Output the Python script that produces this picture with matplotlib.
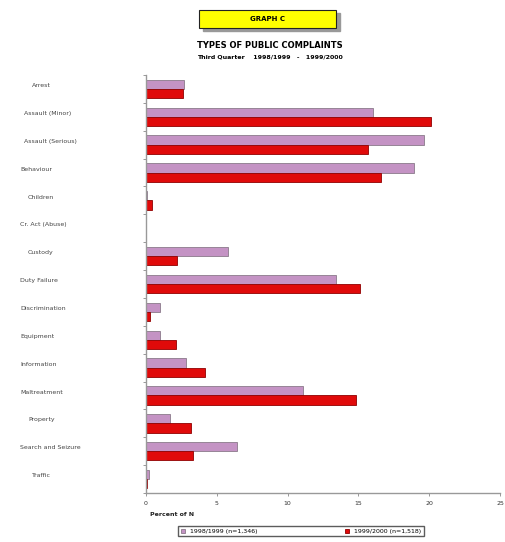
import numpy as np
import matplotlib.pyplot as plt
from matplotlib.patches import Rectangle

categories = ['Arrest', 'Assault (Minor)', 'Assault (Serious)', 'Behaviour',
              'Children', 'Cr. Act (Abuse)', 'Custody', 'Duty Failure',
              'Discrimination', 'Equipment', 'Information', 'Maltreatment',
              'Property', 'Search and Seizure', 'Traffic']
label_indent = [3, 1, 1, 0, 2, 0, 2, 0, 0, 0, 0, 0, 2, 0, 3]
pct_9899 = [2.7, 16.0, 19.6, 18.9, 0.1, 0.0, 5.8, 13.4, 1.0, 1.0, 2.8, 11.1, 1.7, 6.4, 0.2]
pct_9900 = [2.6, 20.1, 15.7, 16.6, 0.4, 0.0, 2.2, 15.1, 0.3, 2.1, 4.2, 14.8, 3.2, 3.3, 0.1]
legend_labels = ['1998/1999 (n=1,346)', '1999/2000 (n=1,518)']
xticks = [0, 5, 10, 15, 20, 25]

W, H = 505, 542
fig = plt.figure(figsize=(W / 100, H / 100), dpi=100)
ax = fig.add_axes([146 / W, 1 - 493 / H, (500 - 146) / W, (493 - 75) / H])

y = np.arange(len(categories))
h = 0.33
ax.barh(y - h / 2, pct_9899, height=h, color='#c493c4', edgecolor='#8a7a8a', linewidth=0.6, label=legend_labels[0])
ax.barh(y + h / 2, pct_9900, height=h, color='#e00a0a', edgecolor='#900000', linewidth=0.6, label=legend_labels[1])

ax.set_ylim(len(categories) - 0.5, -0.5)
ax.set_xlim(0, 25)
ax.set_xticks(xticks)
ax.set_xticklabels([str(t) for t in xticks], fontsize=4.5, color='#333333')
ax.set_yticks(np.arange(len(categories) + 1) - 0.5)
ax.set_yticklabels([])
ax.tick_params(axis='both', length=2.5, width=0.6, color='#888888')
ax.tick_params(axis='x', pad=3)
for s in ['top', 'right']:
    ax.spines[s].set_visible(False)
for s in ['left', 'bottom']:
    ax.spines[s].set_color('#999999')
    ax.spines[s].set_linewidth(1.0)

# category labels, left-aligned near the figure edge
for i, c in enumerate(categories):
    yfig = ax.transData.transform((0, i - 0.12))[1] / fig.bbox.height
    fig.text((20 + label_indent[i] * 4) / W, yfig, c, fontsize=4.5, color='#444444',
             va='center', ha='left')

fig.text(150 / W, 1 - 515 / H, 'Percent of N', fontsize=4.5, fontweight='bold', color='#222222', va='center')

# title box
shadow = Rectangle((203 / W, 1 - 31 / H), 137 / W, 18 / H, transform=fig.transFigure, color='#999999', zorder=1)
fig.patches.append(shadow)
box = Rectangle((199 / W, 1 - 28 / H), 137 / W, 18 / H, transform=fig.transFigure,
                facecolor='#ffff00', edgecolor='#222222', linewidth=0.8, zorder=2)
fig.patches.append(box)
fig.text(267 / W, 1 - 19 / H, 'GRAPH C', fontsize=5, fontweight='bold', ha='center', va='center', zorder=3)
fig.text(270 / W, 1 - 45 / H, 'TYPES OF PUBLIC COMPLAINTS', fontsize=6, fontweight='bold', ha='center', va='center')
fig.text(270 / W, 1 - 57 / H, 'Third Quarter    1998/1999   -   1999/2000', fontsize=4.5, fontweight='bold', ha='center', va='center')

fig.legend(loc='upper left', bbox_to_anchor=(178 / W, 1 - 526 / H), ncol=2, fontsize=4.5,
           frameon=True, fancybox=False, edgecolor='#333333', handlelength=0.7, handleheight=0.7,
           columnspacing=14, borderpad=0.4, borderaxespad=0)

fig.savefig('out.png', dpi=100)
